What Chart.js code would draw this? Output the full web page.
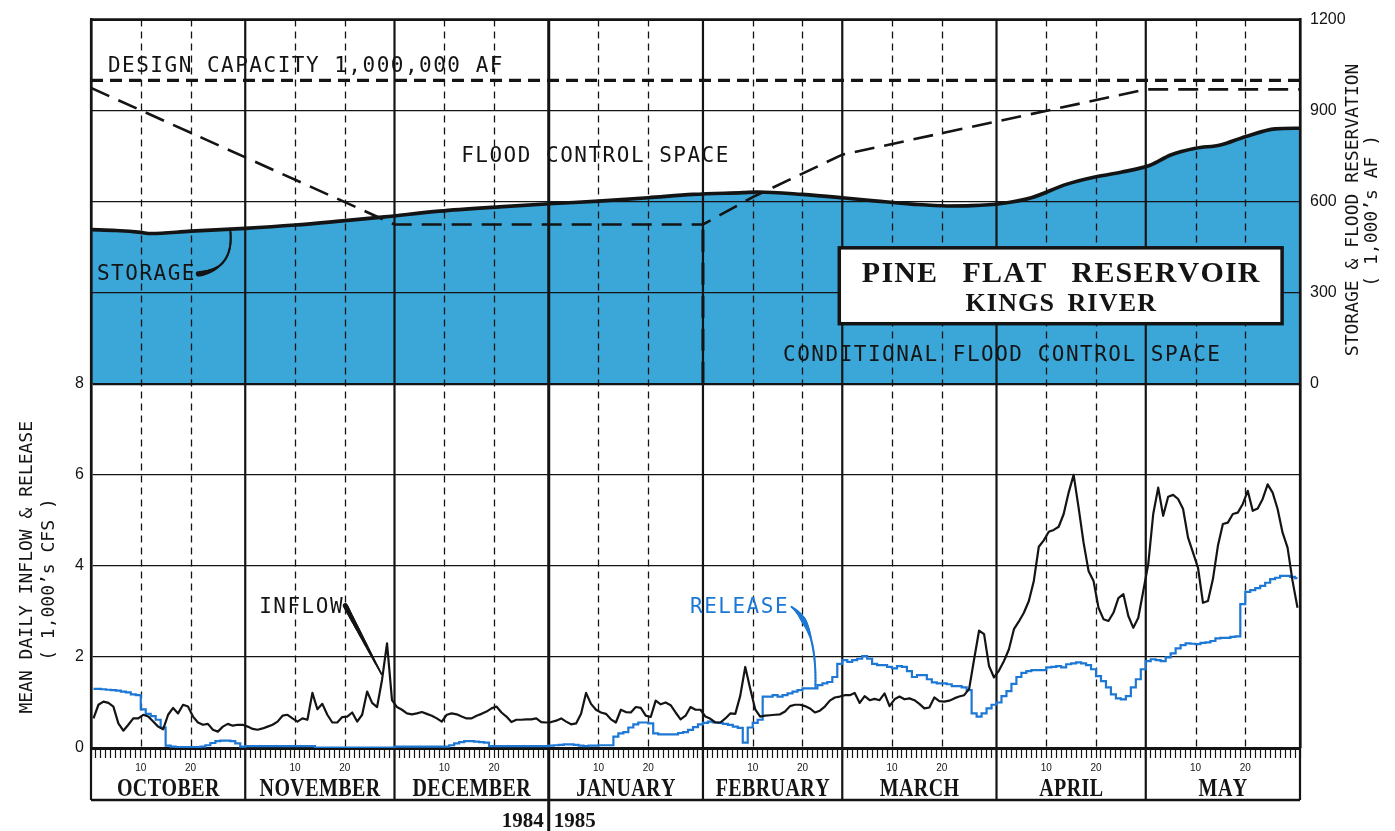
<!DOCTYPE html>
<html>
<head>
<meta charset="utf-8">
<title>Pine Flat Reservoir — Kings River</title>
<script src="https://cdn.jsdelivr.net/npm/chart.js@4.4.1/dist/chart.umd.min.js"></script>
<style>
  html, body { margin: 0; padding: 0; background: #ffffff; }
  #wrap { width: 1395px; height: 831px; position: relative; }
  canvas { display: block; }
</style>
</head>
<body>
<div id="wrap"><canvas id="chart" width="1395" height="831"></canvas></div>
<script>
// ---- Water year layout (Oct 1984 – May 1985) ----
const MONTHS = ['OCTOBER', 'NOVEMBER', 'DECEMBER', 'JANUARY', 'FEBRUARY', 'MARCH', 'APRIL', 'MAY'];
const MONTH_DAYS = [31, 30, 31, 31, 28, 31, 30, 31];
const DAY_LABELS = [10, 20];
const YEAR_LABELS = ['1984', '1985'];
const YEAR_BREAK_MONTH = 3;            // January starts the new calendar year

// ---- Axis ticks ----
const LOWER_TICKS = [0, 2, 4, 6, 8];          // 1,000's CFS
const UPPER_TICKS = [0, 300, 600, 900, 1200]; // 1,000's AF

// ---- Mean daily inflow, 1,000's CFS (one value per day) ----
const inflow = [
  // October
  0.65, 0.95, 1.02, 0.99, 0.91, 0.54, 0.38, 0.51, 0.65, 0.65,
  0.73, 0.69, 0.58, 0.47, 0.41, 0.73, 0.88, 0.76, 0.95, 0.91,
  0.69, 0.56, 0.51, 0.53, 0.40, 0.36, 0.47, 0.53, 0.49, 0.51, 0.51,
  // November
  0.47, 0.42, 0.40, 0.43, 0.47, 0.51, 0.58, 0.71, 0.73, 0.65,
  0.58, 0.65, 0.62, 1.21, 0.85, 0.97, 0.73, 0.56, 0.56, 0.68,
  0.69, 0.78, 0.58, 0.73, 1.24, 0.99, 0.90, 1.50, 2.30, 1.05,
  // December
  0.90, 0.84, 0.76, 0.74, 0.76, 0.79, 0.75, 0.71, 0.65, 0.58,
  0.73, 0.76, 0.74, 0.69, 0.65, 0.65, 0.71, 0.75, 0.80, 0.87,
  0.91, 0.78, 0.69, 0.57, 0.62, 0.62, 0.63, 0.63, 0.65, 0.57, 0.56,
  // January
  0.57, 0.60, 0.65, 0.58, 0.52, 0.54, 0.75, 1.21, 0.97, 0.84,
  0.78, 0.75, 0.63, 0.56, 0.84, 0.79, 0.78, 0.90, 0.88, 0.71,
  0.68, 1.04, 0.96, 1.00, 0.94, 0.78, 0.63, 0.71, 0.90, 0.84, 0.84,
  // February
  0.69, 0.64, 0.56, 0.56, 0.65, 0.76, 0.75, 1.15, 1.78, 1.30,
  0.85, 0.69, 0.71, 0.72, 0.73, 0.74, 0.80, 0.92, 0.95, 0.95,
  0.92, 0.87, 0.78, 0.82, 0.91, 1.04, 1.11, 1.13,
  // March
  1.16, 1.16, 1.21, 0.99, 1.14, 1.05, 1.08, 1.05, 1.20, 0.92,
  1.07, 1.13, 1.07, 1.09, 1.05, 0.97, 0.87, 0.89, 1.11, 1.03,
  1.02, 1.04, 1.09, 1.13, 1.16, 1.30, 1.95, 2.58, 2.50, 1.80, 1.55,
  // April
  1.70, 1.91, 2.17, 2.61, 2.78, 2.97, 3.23, 3.67, 4.42, 4.56,
  4.75, 4.79, 4.86, 5.14, 5.61, 6.00, 5.28, 4.51, 3.89, 3.67,
  3.08, 2.83, 2.79, 2.97, 3.29, 3.38, 2.90, 2.64, 2.86, 3.45,
  // May
  4.04, 5.14, 5.72, 5.10, 5.52, 5.56, 5.47, 5.25, 4.62, 4.29,
  3.96, 3.19, 3.23, 3.71, 4.44, 4.92, 4.95, 5.14, 5.17, 5.36,
  5.65, 5.21, 5.26, 5.47, 5.79, 5.61, 5.25, 4.73, 4.40, 3.67, 3.08
];

// ---- Mean daily release, 1,000's CFS (one value per day) ----
const release = [
  // October
  1.30, 1.30, 1.29, 1.28, 1.27, 1.26, 1.24, 1.22, 1.18, 1.16,
  0.85, 0.75, 0.70, 0.62, 0.45, 0.05, 0.03, 0.02, 0.02, 0.02,
  0.02, 0.02, 0.03, 0.06, 0.11, 0.15, 0.16, 0.16, 0.15, 0.10, 0.03,
  // November
  0.04, 0.04, 0.04, 0.04, 0.04, 0.04, 0.04, 0.04, 0.04, 0.04,
  0.04, 0.04, 0.04, 0.04, 0.01, 0.01, 0.01, 0.01, 0.01, 0.01,
  0.01, 0.01, 0.01, 0.01, 0.01, 0.01, 0.01, 0.01, 0.01, 0.01,
  // December
  0.03, 0.03, 0.03, 0.03, 0.03, 0.03, 0.03, 0.03, 0.03, 0.03,
  0.03, 0.06, 0.10, 0.13, 0.15, 0.15, 0.14, 0.13, 0.12, 0.04,
  0.04, 0.04, 0.04, 0.04, 0.04, 0.04, 0.04, 0.04, 0.04, 0.04, 0.04,
  // January
  0.05, 0.06, 0.07, 0.08, 0.08, 0.07, 0.05, 0.04, 0.05, 0.05,
  0.06, 0.06, 0.06, 0.25, 0.32, 0.35, 0.45, 0.52, 0.56, 0.56,
  0.54, 0.32, 0.30, 0.30, 0.30, 0.30, 0.33, 0.35, 0.40, 0.46, 0.52,
  // February
  0.55, 0.58, 0.56, 0.55, 0.53, 0.51, 0.47, 0.44, 0.12, 0.45,
  0.55, 0.62, 1.13, 1.13, 1.16, 1.13, 1.16, 1.20, 1.24, 1.27,
  1.31, 1.31, 1.31, 1.38, 1.42, 1.45, 1.56, 1.85,
  // March
  1.93, 1.89, 1.93, 1.96, 2.02, 1.96, 1.85, 1.82, 1.82, 1.78,
  1.75, 1.80, 1.78, 1.69, 1.56, 1.60, 1.60, 1.51, 1.44, 1.42,
  1.42, 1.40, 1.36, 1.36, 1.33, 1.27, 0.76, 0.69, 0.76, 0.87, 0.95,
  // April
  1.00, 1.14, 1.25, 1.41, 1.56, 1.65, 1.69, 1.71, 1.71, 1.71,
  1.77, 1.78, 1.80, 1.77, 1.84, 1.86, 1.88, 1.86, 1.82, 1.73,
  1.58, 1.47, 1.33, 1.18, 1.09, 1.07, 1.14, 1.33, 1.51, 1.73,
  // May
  1.91, 1.95, 1.93, 1.91, 1.99, 2.08, 2.19, 2.26, 2.30, 2.29,
  2.28, 2.31, 2.32, 2.35, 2.41, 2.42, 2.42, 2.44, 2.45, 3.16,
  3.43, 3.47, 3.51, 3.56, 3.63, 3.71, 3.74, 3.78, 3.78, 3.76, 3.73
];

// ---- Reservoir storage, 1,000's AF (day counted from Oct 1) ----
const storageDay = [0, 5, 10, 12, 20, 31, 41, 50, 59, 70, 82, 93, 102, 112, 121, 131, 134,
                    143, 151, 158, 165, 172, 177, 183, 189, 196, 202, 207, 213, 217, 222, 227, 232, 238, 243];
const storage    = [508, 505, 499, 495, 503, 512, 523, 536, 550, 569, 583, 594, 602, 613, 624, 630, 632,
                    624, 613, 602, 592, 586, 587, 594, 613, 657, 682, 697, 721, 754, 776, 787, 814, 840, 842];

// ---- Flood control reservation (top of allowed storage), 1,000's AF ----
const reservationDay = [0, 61, 123, 133, 151, 212, 243];
const reservation    = [975, 525, 525, 615, 755, 970, 970];
const conditionalDay = 123;     // Feb 1: limit of the conditional flood control space
const DESIGN_CAPACITY = 1000;

// ---- Derived helpers ----
const MONTH_START = [0];
MONTH_DAYS.forEach(d => MONTH_START.push(MONTH_START[MONTH_START.length - 1] + d));
const TOTAL_DAYS = MONTH_START[MONTH_START.length - 1];

const INK = '#141414';
const BLUE_FILL = '#3ba6d8';
const BLUE_LINE = '#1c78d4';
const MONO = '"DejaVu Sans Mono", monospace';
const SERIF = '"Liberation Serif", "DejaVu Serif", serif';
const SANS = '"Liberation Sans", Arial, sans-serif';
const STRIP_H = 52;   // height of the month strip under the plot

const daily = arr => arr.map((v, i) => ({ x: i + 0.5, y: v }));
const pairs = (xs, ys) => xs.map((d, i) => ({ x: d, y: ys[i] }));
const reservationAt = day => {
  for (let i = 1; i < reservationDay.length; i++) {
    if (day <= reservationDay[i]) {
      const t = (day - reservationDay[i - 1]) / (reservationDay[i] - reservationDay[i - 1]);
      return reservation[i - 1] + t * (reservation[i] - reservation[i - 1]);
    }
  }
  return reservation[reservation.length - 1];
};
const dayOfMonth = v => {
  for (let m = MONTHS.length - 1; m >= 0; m--) if (v >= MONTH_START[m]) return v - MONTH_START[m];
  return v;
};

// Text run with manual letter spacing; optional fixed width for spaces
function textRun(ctx, text, x, y, sp, align, spaceW) {
  const chars = [...text];
  const widths = chars.map(ch => (ch === ' ' && spaceW != null) ? spaceW : ctx.measureText(ch).width);
  const total = widths.reduce((a, b) => a + b, 0) + sp * (chars.length - 1);
  let cx = align === 'center' ? x - total / 2 : align === 'right' ? x - total : x;
  ctx.textAlign = 'left';
  chars.forEach((ch, i) => { if (ch !== ' ') ctx.fillText(ch, cx, y); cx += widths[i] + sp; });
}

function seg(ctx, x1, y1, x2, y2) {
  ctx.beginPath(); ctx.moveTo(x1, y1); ctx.lineTo(x2, y2); ctx.stroke();
}

// Quadratic leader with variable stroke width
function curveLeader(ctx, p0, p1, p2, widthAt, color) {
  ctx.save();
  ctx.strokeStyle = color; ctx.lineCap = 'round';
  const pt = t => ({
    x: (1 - t) * (1 - t) * p0.x + 2 * (1 - t) * t * p1.x + t * t * p2.x,
    y: (1 - t) * (1 - t) * p0.y + 2 * (1 - t) * t * p1.y + t * t * p2.y
  });
  const N = 40;
  for (let i = 0; i < N; i++) {
    const a = pt(i / N), b = pt((i + 1) / N);
    ctx.lineWidth = widthAt((i + 0.5) / N);
    seg(ctx, a.x, a.y, b.x, b.y);
  }
  ctx.restore();
}

// Notes placed in data units: day along x, value on the lower (y) or upper (y2) scale
const NOTES = [
  { text: 'DESIGN CAPACITY 1,000,000 AF', day: 3.4, val: 1052, axis: 'y2' },
  { text: 'FLOOD CONTROL SPACE', day: 74.4, val: 757, axis: 'y2' },
  { text: 'STORAGE', day: 1.2, val: 368, axis: 'y2' },
  { text: 'CONDITIONAL FLOOD CONTROL SPACE', day: 139.1, val: 101, axis: 'y2' },
  { text: 'INFLOW', day: 33.8, val: 3.14, axis: 'y' },
  { text: 'RELEASE', day: 120.4, val: 3.14, axis: 'y', color: BLUE_LINE }
];

const decor = {
  id: 'decor',
  beforeDatasetsDraw(chart) {
    const { ctx, chartArea: { left, right, top, bottom }, scales: { x } } = chart;
    const stripBottom = bottom + STRIP_H;
    ctx.save();
    ctx.strokeStyle = INK;
    // dashed 10th / 20th day lines
    ctx.lineWidth = 1.3;
    ctx.setLineDash([7, 5]);
    for (let m = 0; m < MONTHS.length; m++) {
      for (const d of DAY_LABELS) {
        const px = Math.round(x.getPixelForValue(MONTH_START[m] + d)) + 0.5;
        seg(ctx, px, top, px, bottom);
      }
    }
    // month boundaries, running through the month strip
    ctx.setLineDash([]);
    MONTH_START.forEach((s, m) => {
      const px = x.getPixelForValue(s);
      const isYear = m === YEAR_BREAK_MONTH;
      ctx.lineWidth = isYear ? 3 : 2.2;
      seg(ctx, px, top, px, isYear ? chart.height : stripBottom);
    });
    ctx.lineWidth = 2.6;
    seg(ctx, left, stripBottom, right, stripBottom);
    ctx.restore();
  },
  afterDatasetsDraw(chart) {
    const { ctx, chartArea: { left, right, top, bottom }, scales: { x, y, y2 } } = chart;
    const X = d => x.getPixelForValue(d);
    const Y = (v, axis) => (axis === 'y2' ? y2 : y).getPixelForValue(v);
    ctx.save();

    // top frame line
    ctx.strokeStyle = INK; ctx.lineWidth = 2.6;
    seg(ctx, left - 1, top, right + 1, top);

    // annotation labels
    ctx.font = '21px ' + MONO;
    ctx.textBaseline = 'alphabetic';
    NOTES.forEach(n => {
      ctx.fillStyle = n.color || INK;
      textRun(ctx, n.text, X(n.day), Y(n.val, n.axis) + 21 * 0.365, 1.5, 'left');
    });

    // leaders
    curveLeader(ctx,
      { x: X(21.6), y: Y(362, 'y2') }, { x: X(28.8), y: Y(378, 'y2') }, { x: X(28.0), y: Y(505, 'y2') },
      t => t < 0.35 ? 5.5 - 10 * t : 2, INK);
    curveLeader(ctx,
      { x: X(51.1), y: Y(3.13, 'y') }, { x: X(54.7), y: Y(2.38, 'y') }, { x: X(58.4), y: Y(1.62, 'y') },
      t => 5 - 3.4 * t, INK);
    curveLeader(ctx,
      { x: X(140.8), y: Y(3.10, 'y') }, { x: X(145.9), y: Y(2.70, 'y') }, { x: X(145.6), y: Y(1.34, 'y') },
      t => 2 + 3.5 * Math.max(0, 1 - Math.abs(t - 0.28) / 0.25), BLUE_LINE);

    // title box
    const bx1 = X(150.4), bx2 = X(239.4), by1 = Y(448, 'y2'), by2 = Y(198, 'y2');
    ctx.fillStyle = '#ffffff';
    ctx.fillRect(bx1, by1, bx2 - bx1, by2 - by1);
    ctx.lineWidth = 3.5; ctx.strokeStyle = INK;
    ctx.strokeRect(bx1, by1, bx2 - bx1, by2 - by1);
    const bcx = (bx1 + bx2) / 2;
    ctx.fillStyle = INK;
    ctx.font = 'bold 30px ' + SERIF;
    textRun(ctx, 'PINE FLAT RESERVOIR', bcx, Y(336, 'y2'), 1.2, 'center', 23);
    ctx.font = 'bold 26px ' + SERIF;
    textRun(ctx, 'KINGS RIVER', bcx, Y(241, 'y2'), 1.2, 'center', 11);

    // axis titles
    ctx.font = '18px ' + MONO;
    const vtext = (txt, cx, cy) => {
      ctx.save(); ctx.translate(cx, cy); ctx.rotate(-Math.PI / 2);
      textRun(ctx, txt, 0, 18 * 0.365, 0, 'center'); ctx.restore();
    };
    vtext('MEAN DAILY INFLOW & RELEASE', 25, Y(3.97, 'y'));
    vtext('( 1,000\u2019s CFS )', 47, Y(3.7, 'y'));
    vtext('STORAGE & FLOOD RESERVATION', right + 51, Y(573, 'y2'));
    vtext('( 1,000\u2019s AF )', right + 70, Y(570, 'y2'));

    // month names in the strip
    ctx.font = 'bold 25px ' + SERIF;
    MONTHS.forEach((name, m) => {
      const cx = (X(MONTH_START[m]) + X(MONTH_START[m + 1])) / 2;
      ctx.save(); ctx.translate(cx, bottom + 48); ctx.scale(0.8, 1);
      textRun(ctx, name, 0, 0, 0.5, 'center'); ctx.restore();
    });

    // calendar years either side of the Dec/Jan line
    ctx.font = 'bold 21px ' + SERIF;
    const yx = X(MONTH_START[YEAR_BREAK_MONTH]);
    textRun(ctx, YEAR_LABELS[0], yx - 5, bottom + 79, 0, 'right');
    textRun(ctx, YEAR_LABELS[1], yx + 5, bottom + 79, 0, 'left');

    ctx.restore();
  }
};

new Chart(document.getElementById('chart'), {
  type: 'line',
  data: {
    datasets: [
      { label: 'Inflow', data: daily(inflow), yAxisID: 'y',
        borderColor: INK, borderWidth: 2.2, pointRadius: 0, fill: false, borderJoinStyle: 'round' },
      { label: 'Release', data: daily(release), yAxisID: 'y', stepped: 'middle',
        borderColor: BLUE_LINE, borderWidth: 2.2, pointRadius: 0, fill: false },
      { label: 'Storage', data: pairs(storageDay, storage), yAxisID: 'y2',
        borderColor: INK, borderWidth: 3.6, pointRadius: 0, cubicInterpolationMode: 'monotone',
        fill: 'origin', backgroundColor: BLUE_FILL },
      { label: 'Flood reservation', data: pairs(reservationDay, reservation), yAxisID: 'y2',
        borderColor: INK, borderWidth: 2.6, borderDash: [20, 10], pointRadius: 0, fill: false },
      { label: 'Conditional limit', data: [{ x: conditionalDay, y: 0 }, { x: conditionalDay, y: reservationAt(conditionalDay) }],
        yAxisID: 'y2', borderColor: INK, borderWidth: 3, borderDash: [22, 11], pointRadius: 0, fill: false },
      { label: 'Design capacity', data: [{ x: 0, y: DESIGN_CAPACITY }, { x: TOTAL_DAYS, y: DESIGN_CAPACITY }],
        yAxisID: 'y2', borderColor: INK, borderWidth: 3.2, borderDash: [12, 7], pointRadius: 0, fill: false }
    ]
  },
  options: {
    responsive: false,
    animation: false,
    events: [],
    layout: { padding: { top: 18, right: 0, bottom: 55, left: 0 } },
    plugins: {
      legend: { display: false },
      tooltip: { enabled: false },
      filler: { drawTime: 'beforeDraw' }
    },
    scales: {
      x: {
        type: 'linear', position: 'bottom', min: 0, max: TOTAL_DAYS,
        afterBuildTicks: axis => {
          const t = [];
          for (let d = 0; d <= TOTAL_DAYS; d++) t.push({ value: d });
          axis.ticks = t;
        },
        afterFit: axis => { axis.height = 28; },
        ticks: {
          autoSkip: false, maxRotation: 0, minRotation: 0, padding: 4,
          color: INK, font: { family: SANS, size: 10 },
          callback: v => DAY_LABELS.includes(dayOfMonth(v)) ? String(dayOfMonth(v)) : ''
        },
        grid: { drawOnChartArea: false, drawTicks: true, tickLength: 10, tickColor: INK, tickWidth: 1.2 },
        border: { display: true, color: INK, width: 3 }
      },
      y: {
        type: 'linear', position: 'left', min: 0, max: 16,
        afterBuildTicks: axis => {
          const t = [];
          for (let v = 0; v <= 16; v += 2) t.push({ value: v });
          axis.ticks = t;
        },
        afterFit: axis => { axis.width = 91; },
        ticks: {
          padding: 7, color: INK, font: { family: SANS, size: 16 },
          callback: v => LOWER_TICKS.includes(v) ? String(v) : ''
        },
        grid: {
          drawTicks: false, tickLength: 0,
          color: c => (c.tick && c.tick.value <= 8) ? INK : 'rgba(0,0,0,0)',
          lineWidth: c => !c.tick ? 1 : c.tick.value === 0 ? 3 : c.tick.value === 8 ? 2.2 : 1.3
        },
        border: { display: true, color: INK, width: 2.6 }
      },
      y2: {
        type: 'linear', position: 'right', min: -1200, max: 1200,
        afterBuildTicks: axis => {
          const t = [];
          for (let v = -1200; v <= 1200; v += 300) t.push({ value: v });
          axis.ticks = t;
        },
        afterFit: axis => { axis.width = 95; },
        ticks: {
          padding: 10, color: INK, font: { family: SANS, size: 16 },
          callback: v => UPPER_TICKS.includes(v) ? String(v) : ''
        },
        grid: {
          drawTicks: false, tickLength: 0,
          color: c => (c.tick && c.tick.value > 0 && c.tick.value < 1200) ? INK : 'rgba(0,0,0,0)',
          lineWidth: 1.3
        },
        border: { display: true, color: INK, width: 2.6 }
      }
    }
  },
  plugins: [decor]
});
</script>
</body>
</html>
